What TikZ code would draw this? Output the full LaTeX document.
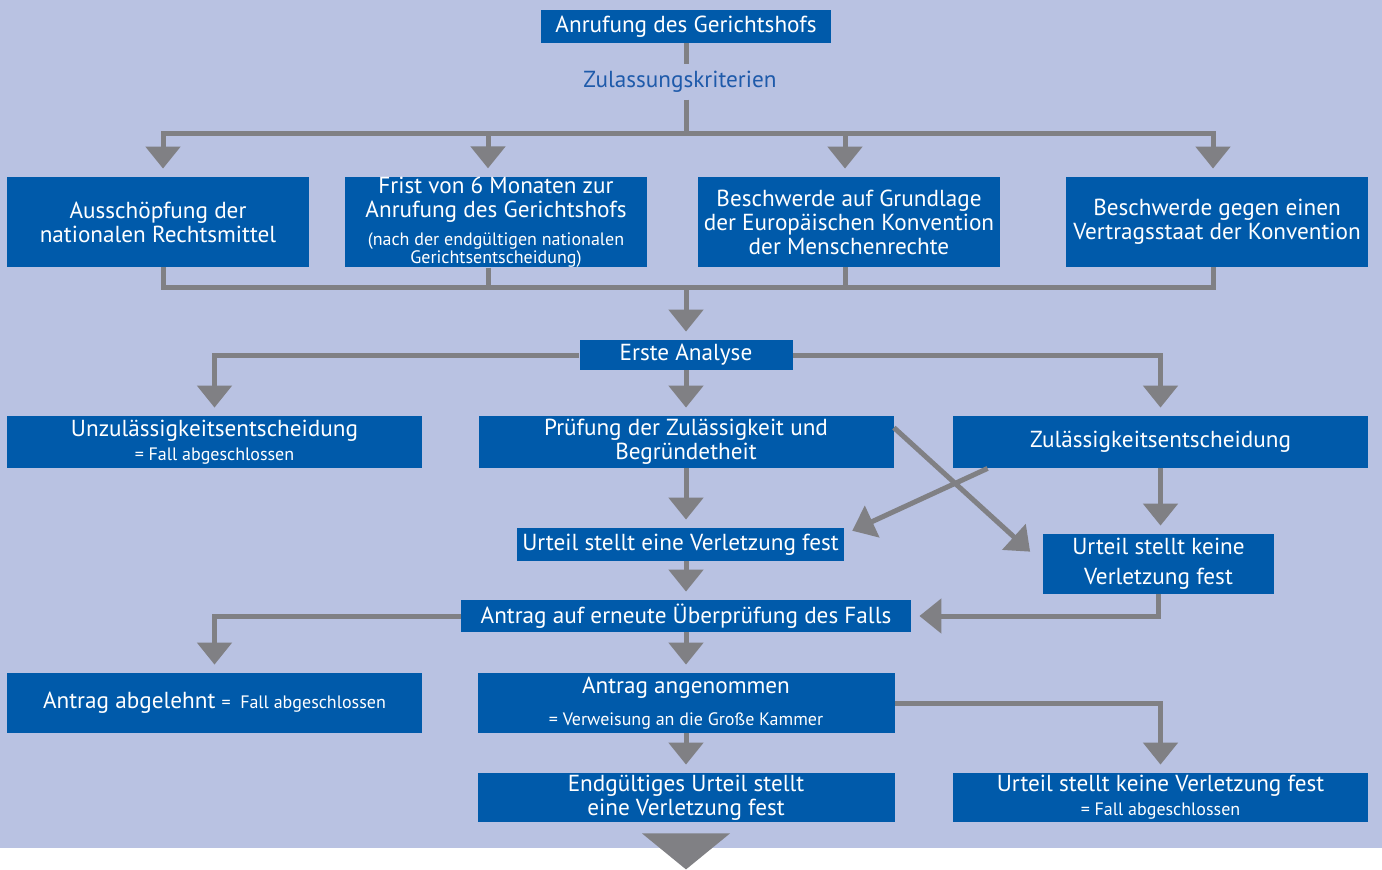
\documentclass[tikz,border=0pt]{standalone}
\usepackage{fontspec}
\setmainfont{PT Sans}
\usepackage{tikz}
\usetikzlibrary{arrows.meta,positioning}
\definecolor{bgblue}{RGB}{185,194,226}
\definecolor{boxblue}{RGB}{0,90,170}
\definecolor{critblue}{RGB}{30,90,170}
\definecolor{arrowgray}{RGB}{128,128,132}
\newcommand{\sm}{\fontsize{9}{9}\selectfont}

\begin{document}
\begin{tikzpicture}[
  x=0.5pt, y=-0.5pt,
  stage/.style={rectangle, fill=boxblue, text=white, inner sep=0pt,
    align=center, font=\fontsize{11.6}{12}\selectfont},
  wide/.style={stage, minimum width=151pt, minimum height=45pt},
  mid/.style={stage, minimum width=207.5pt, minimum height=26pt},
  link/.style={draw=arrowgray, line width=2.5pt},
  flow/.style={link, -{Triangle[width=17pt,length=11pt]}, shorten >=4pt}
]
  \fill[bgblue] (0,0) rectangle (1382,848);
  \useasboundingbox (0,0) rectangle (1382,869);

  \node[stage, minimum width=145pt, minimum height=16.5pt] (top) at (686,26.5)
    {Anrufung des Gerichtshofs};
  \node[text=critblue, font=\fontsize{11.6}{12}\selectfont] (krit) at (680,82)
    {Zulassungskriterien};

  \node[wide] (aus) at (158,222) {Ausschöpfung der\\nationalen Rechtsmittel};
  \node[wide] (frist) at (496,222) {Frist von 6 Monaten zur\\Anrufung des Gerichtshofs\\[2pt]
    {\sm (nach der endgültigen nationalen}\\[-3pt]{\sm Gerichtsentscheidung)}};
  \node[wide] (beschw) at (849,222) {Beschwerde auf Grundlage\\der Europäischen Konvention\\der Menschenrechte};
  \node[wide] (gegen) at (1217,222) {Beschwerde gegen einen\\Vertragsstaat der Konvention};

  \node[stage, minimum width=106.5pt, minimum height=15pt] (erste) at (686,355) {Erste Analyse};

  \node[mid] (unz) at (214.5,442) {Unzulässigkeitsentscheidung\\{\sm = Fall abgeschlossen}};
  \node[mid] (pruef) at (686,442) {Prüfung der Zulässigkeit und\\Begründetheit};
  \node[mid] (zul) at (1160.5,442) {Zulässigkeitsentscheidung};

  \node[stage, minimum width=163.5pt, minimum height=16.5pt] (urteilV) at (680.5,544.5)
    {Urteil stellt eine Verletzung fest};
  \node[stage, minimum width=115.5pt, minimum height=30pt] (keineV) at (1158.5,564)
    {Urteil stellt keine\\[3pt]Verletzung fest};
  \node[stage, minimum width=225pt, minimum height=16pt] (antrag) at (686,616)
    {Antrag auf erneute Überprüfung des Falls};

  \node[mid, minimum height=30pt] (abgelehnt) at (214.5,703)
    {Antrag abgelehnt {\sm = \ Fall abgeschlossen}};
  \node[mid, minimum width=208.5pt, minimum height=30pt] (angenommen) at (686,703)
    {Antrag angenommen\\[4pt]{\sm = Verweisung an die Große Kammer}};
  \node[mid, minimum width=208.5pt, minimum height=24.5pt] (endg) at (686,797.5)
    {Endgültiges Urteil stellt\\eine Verletzung fest};
  \node[mid, minimum height=24.5pt] (keineFall) at (1160.5,797.5)
    {Urteil stellt keine Verletzung fest\\{\sm = Fall abgeschlossen}};

  \coordinate (split) at (686,133);
  \coordinate (join) at (686,287);

  \draw[link] (top) -- (krit.north -| top);
  \draw[link] (krit.south -| top) -- (split);
  \foreach \n/\dx in {aus/2.5pt,frist/-4pt,beschw/-2pt,gegen/-2pt} {
    \draw[flow] (split) -| ([xshift=\dx]\n.north);
    \draw[link] ([xshift=\dx]\n.south) |- (join);
  }
  \draw[flow] (join) -- (erste);

  \draw[flow] (erste) -| (unz);
  \draw[flow] (erste) -| (zul);
  \draw[flow] (erste) -- (pruef);

  \draw[flow] (pruef) -- (pruef |- urteilV.north);
  \draw[flow, shorten >=1pt] ([xshift=17.5pt]zul.south west) -- ([xshift=3pt,yshift=-2pt]urteilV.north east);
  \draw[flow, shorten >=1pt] ([yshift=-6pt]pruef.north east) -- ([xshift=-5.5pt,yshift=5.5pt]keineV.west);
  \draw[flow] (zul) -- (zul |- keineV.north);

  \draw[flow] (keineV) |- (antrag);
  \draw[flow] (urteilV.south -| antrag) -- (antrag);
  \draw[flow] (antrag) -| (abgelehnt);
  \draw[flow] (antrag) -- (angenommen);
  \draw[flow] (angenommen) -| (keineFall);
  \draw[flow] (angenommen) -- (endg);

  % Pfeil nach unten
  \fill[arrowgray] ([yshift=-5.5pt]endg.south) ++(-44,0) -- ++(88,0) -- ++(-44,36) -- cycle;
\end{tikzpicture}
\end{document}
